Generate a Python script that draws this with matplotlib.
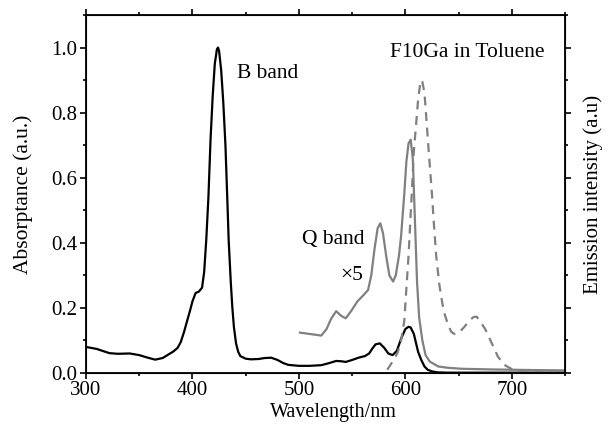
import matplotlib
matplotlib.use("Agg")
import matplotlib.pyplot as plt
from matplotlib.ticker import MultipleLocator, NullFormatter

plt.rcParams['font.family'] = ['Liberation Serif', 'DejaVu Serif']
plt.rcParams['font.size'] = 15

# absorption spectrum (black)
abs_wl = [300, 310, 322, 330, 341, 350, 357, 365, 372, 378, 382, 386, 389, 392,
          395, 398, 400, 403, 406, 409, 411, 413, 415, 417, 419, 421, 423, 424,
          425, 427, 429, 431, 433, 434, 436, 437.5, 439, 441, 443, 445, 450, 455,
          462, 468, 474, 480, 485, 490, 500, 510, 521, 528, 535, 540, 544, 550,
          556, 562, 566, 569, 572, 576, 580, 584, 588, 592, 596, 600, 603, 605,
          608, 612, 615, 618, 621, 625, 630, 640, 660, 700, 750]
abs_val = [0.080, 0.074, 0.061, 0.059, 0.060, 0.055, 0.048, 0.041, 0.046, 0.058,
           0.066, 0.077, 0.095, 0.125, 0.160, 0.195, 0.220, 0.246, 0.250, 0.262,
           0.310, 0.410, 0.540, 0.717, 0.850, 0.950, 0.995, 1.000, 0.990, 0.930,
           0.830, 0.700, 0.510, 0.410, 0.280, 0.200, 0.140, 0.090, 0.065, 0.052,
           0.044, 0.042, 0.043, 0.046, 0.047, 0.040, 0.031, 0.025, 0.022, 0.022,
           0.024, 0.030, 0.037, 0.036, 0.034, 0.040, 0.047, 0.052, 0.060, 0.075,
           0.088, 0.091, 0.078, 0.060, 0.055, 0.068, 0.105, 0.135, 0.142, 0.140,
           0.120, 0.065, 0.040, 0.020, 0.010, 0.005, 0.002, 0.001, 0.001, 0.001,
           0.001]

# Q band x5 (grey)
q_wl = [501, 510, 521, 526, 530, 535, 540, 544, 549, 555, 560, 565, 568, 571,
        574, 576.5, 579, 582, 585, 588.5, 591, 594, 596, 599, 601, 603, 605,
        607, 609, 611, 613, 616, 619, 623, 631, 640, 653, 680, 720, 750]
q_val = [0.124, 0.120, 0.115, 0.135, 0.165, 0.190, 0.175, 0.168, 0.190, 0.220,
         0.237, 0.255, 0.300, 0.380, 0.445, 0.460, 0.430, 0.360, 0.300, 0.281,
         0.300, 0.360, 0.420, 0.550, 0.650, 0.705, 0.717, 0.660, 0.470, 0.280,
         0.170, 0.100, 0.055, 0.035, 0.020, 0.016, 0.013, 0.011, 0.009, 0.008]

# emission (grey dashed)
em_wl = [583, 586, 590, 593, 596, 599, 601, 603, 606, 608, 610, 612, 614, 615,
         616, 618, 620, 622, 625, 627, 629, 632, 635, 637, 640, 643, 646, 650,
         655, 660, 664, 667, 670, 675, 680, 687, 693, 700, 710, 730, 750]
em_val = [0.010, 0.025, 0.045, 0.065, 0.100, 0.160, 0.260, 0.360, 0.550, 0.680,
          0.760, 0.840, 0.890, 0.900, 0.895, 0.860, 0.770, 0.680, 0.550, 0.450,
          0.360, 0.270, 0.210, 0.180, 0.150, 0.127, 0.120, 0.123, 0.140, 0.160,
          0.172, 0.173, 0.160, 0.135, 0.100, 0.050, 0.025, 0.012, 0.006, 0.004,
          0.003]

fig = plt.figure(figsize=(6.12, 4.25), dpi=100)
ax = fig.add_axes([86/612, 1-373/425, (565-86)/612, (373-15)/425])

ax.plot(abs_wl, abs_val, color='black', lw=1.6)
ax.plot(q_wl, q_val, color='#808080', lw=1.6)
ax.plot(em_wl, em_val, color='#808080', lw=1.6, ls=(0, (4, 3)))

ax.set_xlim(300, 750)
ax.set_ylim(0, 1.1)
ax.xaxis.set_major_locator(MultipleLocator(100))
ax.xaxis.set_minor_locator(MultipleLocator(50))
ax.yaxis.set_major_locator(MultipleLocator(0.2))
ax.yaxis.set_minor_locator(MultipleLocator(0.1))
ax.yaxis.set_major_formatter(plt.FormatStrFormatter('%.1f'))
ax.tick_params(which='both', direction='out', top=True, width=1.2)
ax.tick_params(which='major', length=4.5, pad=2)
ax.tick_params(axis='x', which='major', pad=1)
ax.tick_params(which='minor', length=2.5)
for s in ax.spines.values():
    s.set_linewidth(1.3)

ax2 = ax.twinx()
ax2.set_ylim(0, 1.1)
ax2.yaxis.set_major_locator(MultipleLocator(0.2))
ax2.yaxis.set_minor_locator(MultipleLocator(0.1))
ax2.yaxis.set_major_formatter(NullFormatter())
ax2.tick_params(which='both', direction='out', width=1.2)
ax2.tick_params(which='major', length=4.5)
ax2.tick_params(which='minor', length=2.5)
ax2.set_ylabel('Emission intensity (a.u)', fontsize=15)
ax2.yaxis.set_label_coords((583-86)/479, 0.5)

ax.set_xlabel('Wavelength/nm', fontsize=14.5)
ax.xaxis.set_label_coords((333-86)/479, -(403.5-373)/358)
ax.set_ylabel('Absorptance (a.u.)', fontsize=15.5)
ax.yaxis.set_label_coords(-(86-33)/479, 0.5)

ax.text(442, 0.92, 'B band', va='center', fontsize=15.5)
ax.text(586, 0.985, 'F10Ga in Toluene', va='center', fontsize=15.5)
ax.text(503, 0.41, 'Q band', va='center', fontsize=15.5)
ax.text(539, 0.30, '\u00d75', va='center', fontsize=15.5)

fig.savefig('out.png', dpi=100)
